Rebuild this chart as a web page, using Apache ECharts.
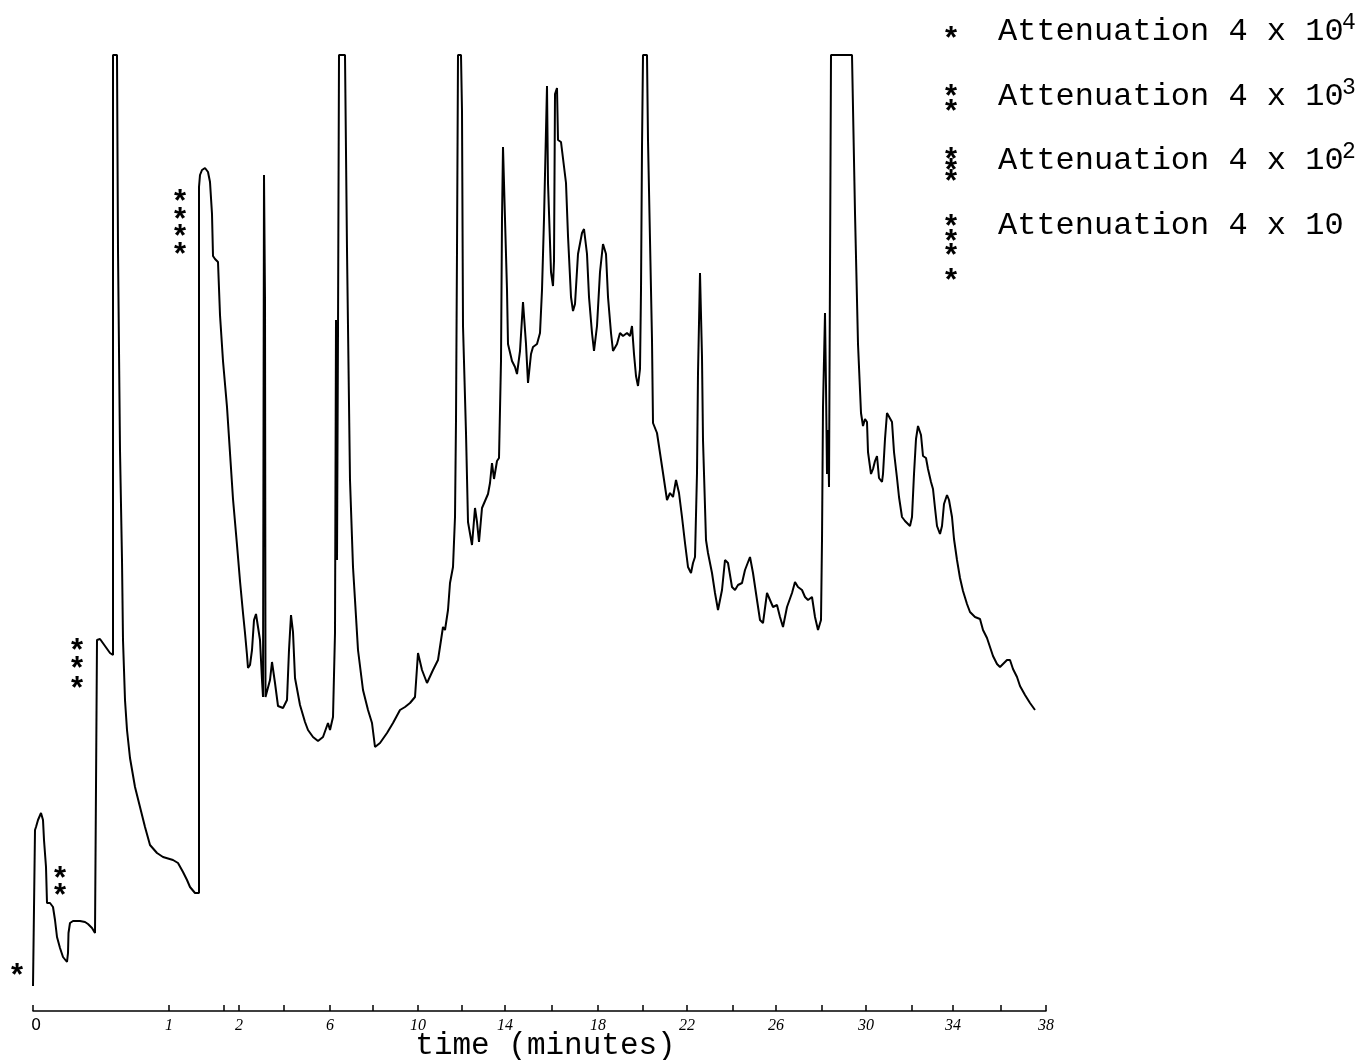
<!DOCTYPE html>
<html><head><meta charset="utf-8">
<script src="https://cdn.jsdelivr.net/npm/echarts@6/dist/echarts.min.js"></script>
<style>html,body{margin:0;padding:0;background:#fff}#c{width:1371px;height:1060px}</style>
</head><body><div id="c"></div>
<script>
// Detector trace: [chart position, response] (response 956 = pen at full scale)
// Segment recorded at attenuation 4 x 10^4
const trace1 = [[0,25],[2,25],[2,181],[3,184],[5,191],[8,198],[9,200],[10,191],[11,171],[13,144],[14,108],[17,108]];
// Segment recorded at attenuation 4 x 10^3
const trace2 = [[19,109],[20,104],[22,91],[24,74],[27,63],[30,54],[34,49],[35,58],[35.5,78],[37,88],[40,90],[47,90],[52,89],[55,87],[59,83],[62,78],[64,79]];
// Segment recorded at attenuation 4 x 10^2
const trace3 = [[64,371],[67,372],[72,365],[77,358],[80,356],[80,956],[84,956],[85,761],[87,561],[89,451],[90,371],[92,311],[94,281],[97,253],[102,224],[107,204],[112,184],[117,166],[124,158],[130,154],[140,151],[145,148],[150,139],[154,131],[157,124],[162,118],[166,118]];
// Segment recorded at attenuation 4 x 10
const trace4 = [[166,824],[167,836],[169,841],[172,843],[175,839],[177,829],[179,797],[180,755],[182,752],[185,749],[187,696],[190,650],[194,604],[197,558],[200,512],[204,466],[207,430],[210,398],[212,378],[214,356],[215,343],[217,346],[219,361],[221,391],[223,397],[225,395],[227,371],[229,331],[230,314],[231,836],[232,711],[232.5,314],[234,314],[237,331],[239,349],[242,328],[245,305],[250,303],[254,311],[256,361],[258,396],[260,379],[262,333],[267,306],[272,289],[275,281],[280,274],[285,270],[290,274],[295,288],[297,281],[300,294],[302,378],[303,691],[304,451],[305,681],[306,956],[312,956],[314,761],[317,531],[320,444],[322,411],[325,361],[330,321],[335,301],[339,288],[342,264],[347,268],[354,278],[360,288],[367,301],[372,304],[377,308],[382,314],[385,358],[389,341],[394,328],[400,341],[405,351],[410,384],[412,381],[415,401],[417,428],[420,444],[422,494],[423,591],[424,761],[425,956],[428,956],[429,900],[430,685],[433,578],[435,489],[439,466],[442,503],[444,489],[446,469],[449,503],[452,510],[455,517],[457,528],[459,548],[461,532],[464,550],[466,553],[468,650],[469,792],[470,864],[472,792],[474,721],[475,667],[479,650],[482,644],[484,637],[487,660],[490,709],[493,667],[495,628],[498,657],[500,664],[504,667],[507,678],[509,721],[511,792],[514,925],[515,828],[518,739],[520,725],[521,750],[522,917],[524,923],[525,871],[528,869],[530,867],[533,828],[535,775],[538,714],[540,700],[542,707],[545,757],[549,778],[551,782],[554,757],[556,714],[559,678],[561,660],[564,685],[567,739],[570,767],[573,757],[575,714],[578,678],[580,660],[584,667],[587,678],[590,675],[594,678],[597,675],[599,685],[601,657],[603,635],[605,625],[607,642],[608,721],[609,864],[610,956],[614,956],[615,871],[617,771],[619,671],[620,588],[624,578],[627,558],[630,538],[634,511],[637,518],[640,514],[643,531],[646,518],[649,494],[652,468],[655,444],[658,438],[660,448],[662,454],[664,538],[665,638],[667,738],[669,654],[670,571],[673,471],[675,458],[679,438],[682,418],[685,401],[689,421],[692,451],[695,448],[699,424],[702,421],[705,426],[709,428],[712,441],[717,454],[720,438],[724,411],[727,391],[730,388],[734,418],[737,411],[740,404],[744,406],[747,394],[750,384],[754,404],[759,418],[762,429],[765,424],[769,421],[772,414],[775,411],[779,414],[782,394],[785,381],[788,391],[789,471],[790,604],[792,698],[793,624],[794,537],[795,581],[796,524],[797,524],[798,956],[819,956],[822,798],[825,667],[828,598],[830,585],[832,592],[834,589],[835,559],[838,537],[840,542],[842,550],[844,555],[846,533],[849,529],[850,537],[852,572],[854,598],[856,600],[859,589],[861,559],[864,533],[866,514],[869,494],[872,490],[874,490],[877,485],[879,494],[881,537],[883,572],[885,585],[888,576],[890,555],[893,553],[895,542],[898,529],[900,522],[902,503],[904,485],[907,477],[909,485],[911,507],[914,516],[916,511],[919,494],[921,472],[924,451],[927,433],[930,420],[934,407],[937,399],[942,394],[947,392],[950,381],[954,373],[957,364],[960,355],[964,347],[967,344],[970,347],[974,351],[977,351],[980,342],[984,334],[987,325],[992,316],[997,308],[1002,301]];

// Time axis (hand-lettered on the chart paper)
const tickValues = [0,136,191,206,251,297,340,385,429,472,519,565,610,654,700,743,789,833,879,920,968,1013];
const labelValues = [0,136,206,297,385,472,565,654,743,833,920,1013];
const tickLabels = ['0','1','2','6','10','14','18','22','26','30','34','38'];

// Attenuation change marks on the trace, one star each: [chart position, response]
const marks1 = [[-16,41]];
const marks2 = [[27,138],[27,121]];
const marks3 = [[44,366],[44,348],[44,328]];
const marks4 = [[147,815],[147,797],[147,780],[147,762]];

// Legend
const legendText = ['Attenuation 4 x 10','Attenuation 4 x 10','Attenuation 4 x 10','Attenuation 4 x 10'];
const legendExponent = ['4','3','2',''];
const legendStars = [1,2,3,4];

const chart = echarts.init(document.getElementById('c'), null, {renderer:'canvas'});
const MONO = "'Liberation Mono', 'DejaVu Sans Mono', monospace";
const STARFONT = "bold 31px 'Liberation Mono', monospace";

const graphics = [];
const rowY = [33, 98, 162, 227];
const starOffsets = [[0],[-7,8],[-8,3,14],[-6,9,23,48]];
legendText.forEach((t,i)=>{
  graphics.push({type:'text', left:998, top:rowY[i]-17, style:{text:t, font:"32px "+MONO, fill:'#000'}});
  if (legendExponent[i]) graphics.push({type:'text', left:1342, top:rowY[i]-22, style:{text:legendExponent[i], font:"23px "+MONO, fill:'#000'}});
  starOffsets[legendStars[i]-1].forEach(dy=>{
    graphics.push({type:'text', x:951, y:rowY[i]+dy+8, style:{text:'*', font:STARFONT, fill:'#000', align:'center', verticalAlign:'middle'}});
  });
});

const labelMap = {};
labelValues.forEach((v,i)=>{ labelMap[v] = tickLabels[i]; });

const starSeries = (data)=>({type:'scatter', data:data, symbol:'circle', symbolSize:0, itemStyle:{color:'#000', opacity:1}, clip:false, z:5,
  label:{show:true, position:'inside', offset:[0,8], formatter:'*', color:'#000', textBorderWidth:0,
    fontFamily:'Liberation Mono', fontWeight:'bold', fontSize:31}});

chart.setOption({
  animation:false,
  backgroundColor:'#fff',
  grid:{left:33, right:325, top:51, bottom:49, outerBoundsMode:'none', containLabel:false},
  xAxis:{
    type:'value', min:0, max:1013,
    axisLine:{lineStyle:{color:'#000', width:1.5}},
    axisTick:{show:true, inside:true, length:6, customValues:tickValues, lineStyle:{color:'#000', width:1.5}},
    axisLabel:{customValues:labelValues, margin:7, color:'#000', fontFamily:'Liberation Serif', fontStyle:'italic', fontSize:16,
      formatter:(v)=> v===0 ? '{z|0}' : labelMap[v],
      rich:{z:{fontFamily:'DejaVu Sans', fontStyle:'normal', fontSize:16, color:'#000', padding:[0,0,0,6]}}},
    splitLine:{show:false},
    name:'time (minutes)', nameLocation:'middle', nameGap:19, nameMoveOverlap:false,
    nameTextStyle:{fontFamily:'Liberation Mono', fontSize:31, color:'#000', padding:[0,0,0,12]}
  },
  yAxis:{type:'value', min:0, max:960, show:false},
  series:[
    {type:'line', data:trace1.concat(trace2, trace3, trace4), showSymbol:false, symbol:'none',
     lineStyle:{color:'#000', width:2}, clip:false},
    starSeries(marks1), starSeries(marks2), starSeries(marks3), starSeries(marks4)
  ],
  graphic:graphics
});
</script></body></html>
